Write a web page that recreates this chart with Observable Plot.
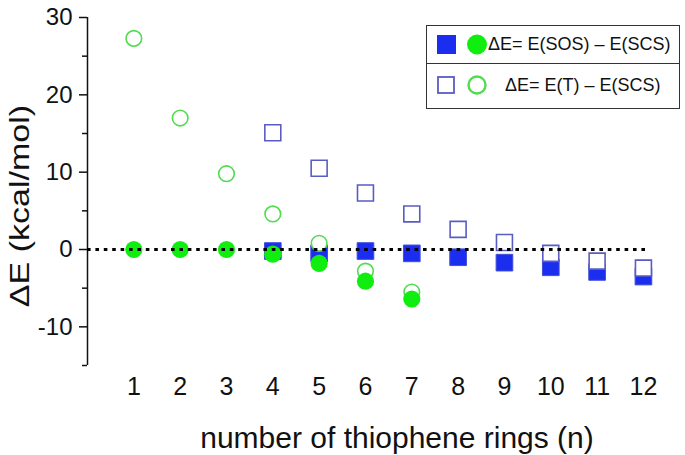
<!DOCTYPE html>
<html>
<head>
<meta charset="utf-8">
<script src="https://cdn.jsdelivr.net/npm/d3@7"></script>
<script src="https://cdn.jsdelivr.net/npm/@observablehq/plot@0.6"></script>
<style>
  html, body { margin: 0; padding: 0; background: #fff; }
  #wrap { position: relative; width: 685px; height: 455px; font-family: "Liberation Sans", Arial, sans-serif; }
  #legend { position: absolute; left: 426px; top: 25px; width: 254px; height: 84px; border: 1.5px solid #333; box-sizing: border-box; background: #fff; }
  #legend .row { position: absolute; left: 0; width: 100%; display: flex; align-items: center; font-size: 18px; color: #111; white-space: nowrap; }
  #legend .r1 { top: 0; height: 37px; border-bottom: 1.5px solid #333; }
  #legend .r2 { top: 38px; height: 43px; }
  #ylabel { position: absolute; left: 20px; top: 206px; font-size: 27px; color: #111; white-space: nowrap;
            transform: translate(-50%, -50%) rotate(-90deg) scaleX(1.26); }
</style>
</head>
<body>
<div id="wrap"></div>
<script>
// ring counts (x) and energies (kcal/mol)
const nSOSCircle = [1, 2, 3, 4, 5, 6, 7];
const sosCircle  = [0, 0, 0, -0.6, -1.8, -4.1, -6.4];
const nSOSSquare = [4, 5, 6, 7, 8, 9, 10, 11, 12];
const sosSquare  = [-0.2, -0.5, -0.2, -0.5, -1.0, -1.7, -2.3, -2.9, -3.5];
const nTCircle   = [1, 2, 3, 4, 5, 6, 7];
const tCircle    = [27.3, 17.0, 9.8, 4.6, 0.8, -2.8, -5.5];
const nTSquare   = [4, 5, 6, 7, 8, 9, 10, 11, 12];
const tSquare    = [15.1, 10.5, 7.3, 4.6, 2.6, 0.9, -0.5, -1.5, -2.4];
const xTicks = [1, 2, 3, 4, 5, 6, 7, 8, 9, 10, 11, 12];
const yMajor = [-10, 0, 10, 20, 30];
const yMinor = [-15, -5, 5, 15, 25];
const zeroLine = [0];
const zeroLineEnd = 12.13;
const xTitle = "number of thiophene rings (n)";
const yTitle = "ΔE (kcal/mol)";
const legendLabels = ["ΔE= E(SOS) – E(SCS)", "ΔE= E(T) – E(SCS)"];

const toRows = (xs, ys) => xs.map((x, i) => ({x, y: ys[i]}));

const BLUE = "#1b2ef0", BLUE_EDGE = "#3f4fd8", BLUE_OPEN = "#5a5cc4";
const GREEN = "#10ee10", GREEN_OPEN = "#4fdc4f";

const chart = Plot.plot({
  width: 685,
  height: 455,
  marginTop: 17,
  marginBottom: 90,
  marginLeft: 87,
  marginRight: 5,
  style: {fontFamily: "Liberation Sans, Arial, sans-serif", fontSize: "24px", color: "#111", background: "transparent"},
  x: {domain: [0, 12.8]},
  y: {domain: [-15, 30]},
  marks: [
    Plot.ruleX([0], {stroke: "#111", strokeWidth: 1.5}),
    Plot.axisY({ticks: yMajor, tickSize: 8, tickPadding: 7, tickFormat: d => String(d), fontSize: 24, label: null, strokeWidth: 1.5}),
    Plot.axisY({ticks: yMinor, tickSize: 5, tickFormat: () => "", label: null, strokeWidth: 1.5}),
    Plot.axisX({ticks: xTicks, tickSize: 0, tickPadding: 12, fontSize: 25, label: xTitle, labelAnchor: "center", labelArrow: false, labelOffset: 82}),
    Plot.dot(toRows(nSOSSquare, sosSquare), {x: "x", y: "y", symbol: "square", r: 9.4, fill: BLUE, stroke: BLUE_EDGE, strokeWidth: 1}),
    Plot.dot(toRows(nTSquare, tSquare), {x: "x", y: "y", symbol: "square", r: 9.0, fill: "white", stroke: BLUE_OPEN, strokeWidth: 1.6}),
    Plot.dot(toRows(nTCircle, tCircle), {x: "x", y: "y", r: 7.8, fill: "white", stroke: GREEN_OPEN, strokeWidth: 1.6}),
    Plot.dot(toRows(nSOSCircle, sosCircle), {x: "x", y: "y", r: 8.6, fill: GREEN, stroke: "none"}),
    Plot.ruleY(zeroLine, {x1: 0, x2: zeroLineEnd, stroke: "#000", strokeWidth: 3.2, strokeDasharray: "3.6,4.8"})
  ]
});

const wrap = document.getElementById("wrap");
wrap.appendChild(chart);
// enlarge and nudge the x-axis title
d3.select(chart).selectAll("g[aria-label='x-axis label']").attr("font-size", 30)
  .selectAll("text").attr("dx", 13);

const ylab = document.createElement("div");
ylab.id = "ylabel";
ylab.textContent = yTitle;
wrap.appendChild(ylab);

const legend = document.createElement("div");
legend.id = "legend";
legend.innerHTML = `
  <div class="row r1">
    <svg width="56" height="37" style="margin-left:8px;flex:none">
      <rect x="2" y="9" width="19" height="19" fill="${BLUE}"/>
      <circle cx="42" cy="18.5" r="10" fill="${GREEN}"/>
    </svg>
    <span style="margin-left:-3px">${legendLabels[0]}</span>
  </div>
  <div class="row r2">
    <svg width="56" height="43" style="margin-left:8px;flex:none">
      <rect x="3" y="13" width="16" height="16" fill="white" stroke="${BLUE_OPEN}" stroke-width="1.8"/>
      <circle cx="42" cy="21" r="8.5" fill="white" stroke="${GREEN_OPEN}" stroke-width="2.4"/>
    </svg>
    <span style="margin-left:14px">${legendLabels[1]}</span>
  </div>`;
wrap.appendChild(legend);
</script>
</body>
</html>
